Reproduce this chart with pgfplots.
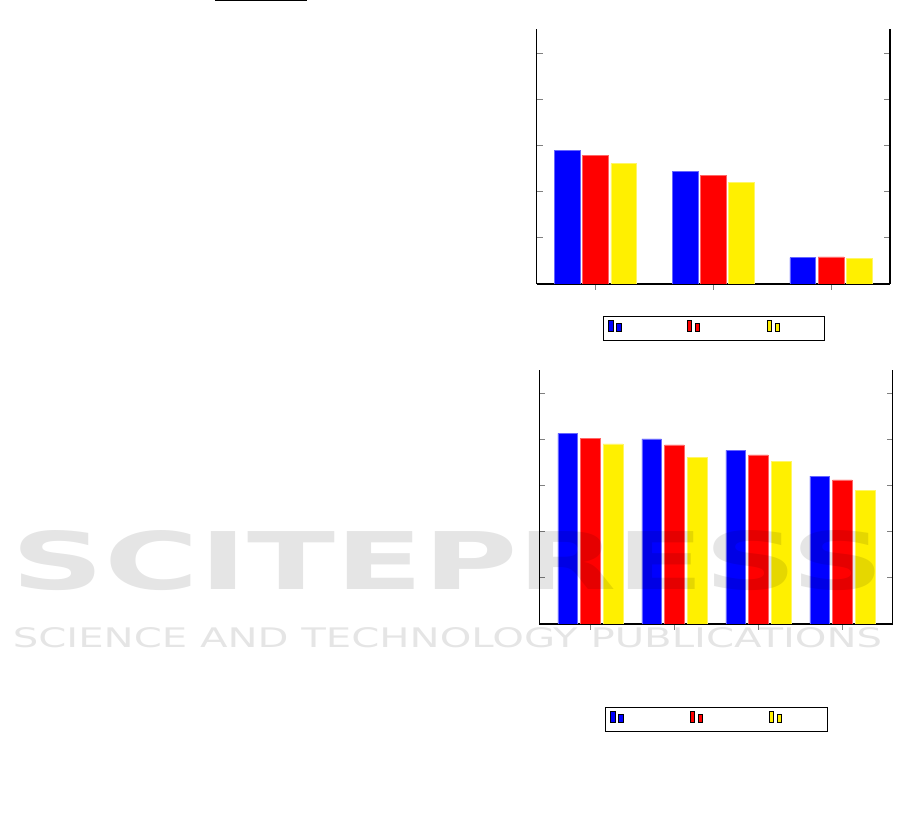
\documentclass[border=0pt]{standalone}
\usepackage{pgfplots}
\pgfplotsset{compat=1.18}
\usepackage{graphicx}
\usepackage{fontspec}
\setmainfont{DejaVu Sans}
\definecolor{cblue}{RGB}{0,0,255}
\definecolor{cred}{RGB}{255,0,0}
\definecolor{cyellow}{RGB}{255,240,0}
\pgfplotsset{
  mylegend/.style={legend image code/.code={%
      \draw[##1, draw=black, line width=0.6pt] (0pt,0pt) rectangle (3.25pt,8.25pt) (6pt,0pt) rectangle (9.25pt,6pt);
      \path (0pt,-6.75pt) (0pt,10.5pt);}},
  mystyle/.style={
    scale only axis,
    ymin=0,
    axis x line=bottom, axis y line=box,
    axis line style={-, line width=0.8pt, black},
    ytick={0,1,2,3,4,5},
    yticklabels={}, xticklabels={},
    tick align=inside, major tick length=4.5pt,
    tick style={gray, line width=0.8pt},
    ybar,
    legend columns=3,
    legend style={draw=black, line width=0.6pt, inner xsep=3.5pt, inner ysep=0pt,
      nodes={inner sep=0pt, text depth=0pt},
      /tikz/every even column/.append style={column sep=0pt}},
  }
}
\begin{document}
\begin{tikzpicture}
\useasboundingbox (0,0) rectangle (675.75pt,615pt);
\draw[line width=0.75pt] (161.25pt,614.6pt) -- (230pt,614.6pt);
% top chart
\begin{axis}[mystyle,
  at={(402.4pt,402pt)}, anchor=south west,
  width=265.1pt, height=191pt,
  xmin=0.5, xmax=3.5, ymax=5.52,
  xtick={1,2,3},
  bar width=0.218,
  legend style={at={(0.189,-0.127)}, anchor=north west},
]
\addplot[fill=cblue, draw=cblue!60, bar shift=-0.24, mylegend] coordinates {(1,2.90) (2,2.44) (3,0.57)};
\addlegendentry{\hspace*{49pt}}
\addplot[fill=cred, draw=cred!60, bar shift=0, mylegend] coordinates {(1,2.79) (2,2.36) (3,0.586)};
\addlegendentry{\hspace*{50.2pt}}
\addplot[fill=cyellow, draw=cyellow!60, bar shift=0.24, mylegend] coordinates {(1,2.61) (2,2.20) (3,0.557)};
\addlegendentry{\hspace*{29.6pt}}
\end{axis}
% bottom chart
\begin{axis}[mystyle,
  at={(404.5pt,147pt)}, anchor=south west,
  width=265.05pt, height=190.5pt,
  xmin=0.393, xmax=4.6, ymax=5.5,
  xtick={1,2,3,4},
  bar width=0.234,
  legend style={at={(0.187,-0.328)}, anchor=north west},
]
\addplot[fill=cblue, draw=cblue!60, bar shift=-0.27, mylegend] coordinates {(1,4.13) (2,4.01) (3,3.76) (4,3.20)};
\addlegendentry{\hspace*{49.7pt}}
\addplot[fill=cred, draw=cred!60, bar shift=0, mylegend] coordinates {(1,4.02) (2,3.88) (3,3.66) (4,3.12)};
\addlegendentry{\hspace*{49.5pt}}
\addplot[fill=cyellow, draw=cyellow!60, bar shift=0.27, mylegend] coordinates {(1,3.90) (2,3.61) (3,3.52) (4,2.90)};
\addlegendentry{\hspace*{30.2pt}}
\end{axis}
% watermark
\node[anchor=north west, inner sep=0pt, opacity=0.1] at (8.6pt,217.5pt)
  {\resizebox{654.4pt}{44.25pt}{\bfseries SCITEPRESS}};
\node[anchor=north west, inner sep=0pt, opacity=0.1] at (9.45pt,144.75pt)
  {\resizebox{652pt}{15pt}{SCIENCE AND TECHNOLOGY PUBLICATIONS}};
\end{tikzpicture}
\end{document}
